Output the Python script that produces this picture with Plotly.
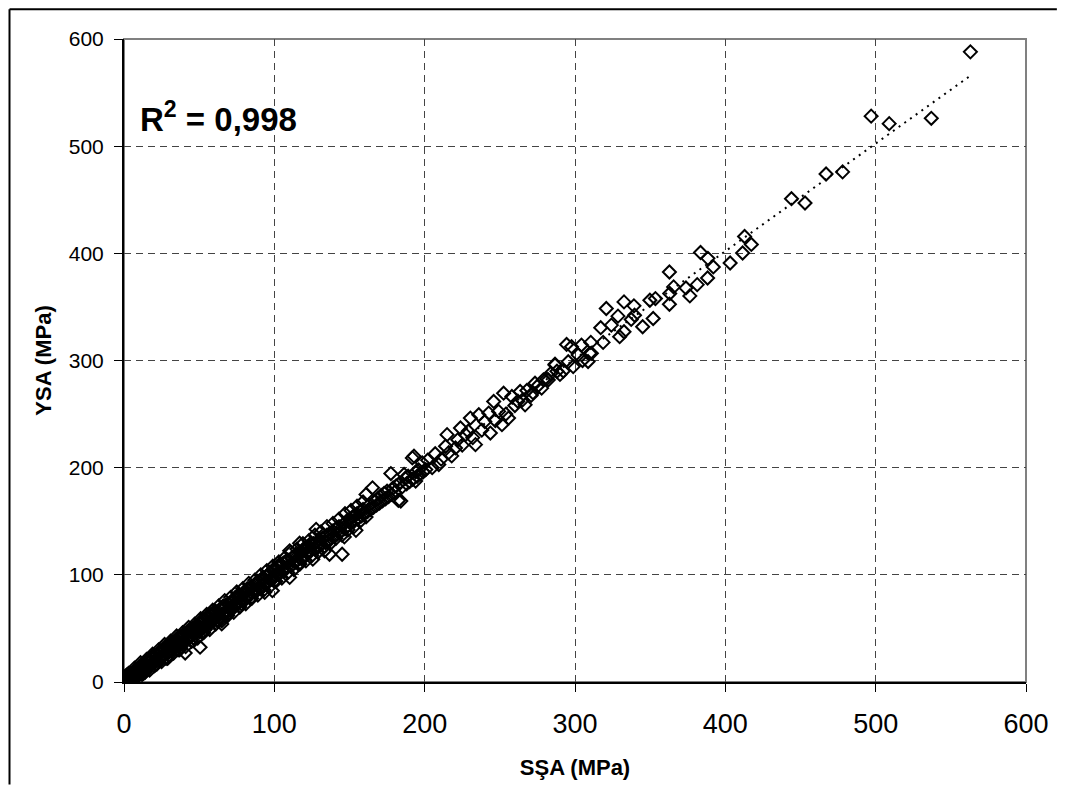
import numpy as np
import plotly.graph_objects as go

# ---- data ----
ssa_low = [
    0.5, 1.0, 1.5, 2.0, 2.5, 3.0, 3.0, 3.5, 4.0, 4.0,
    4.5, 5.0, 5.0, 5.5, 6.0, 6.0, 6.5, 7.0, 7.0, 7.5,
    8.0, 8.0, 8.5, 9.0, 9.0, 10.0, 10.0, 10.5, 11.0, 11.0,
    12.0, 12.0, 12.5, 13.0, 13.0, 14.0, 14.0, 15.0, 15.0, 16.0,
    16.0, 17.0, 17.0, 18.0, 18.0, 19.0, 19.0, 20.0, 20.0, 21.0,
    22.0, 22.0, 23.0, 23.0, 24.0, 24.0, 25.0, 25.0, 26.0, 26.0,
    27.0, 27.0, 28.0, 28.0, 29.0, 29.0, 30.0, 30.0, 31.0, 31.0,
    32.0, 32.0, 33.0, 33.0, 34.0, 35.0, 35.0, 36.0, 36.0, 37.0,
    37.0, 38.0, 38.0, 39.0, 39.0, 40.0, 40.0, 40.7, 41.0, 42.0,
    42.0, 43.0, 43.0, 44.0, 44.0, 45.0, 45.0, 46.0, 46.0, 47.0,
    47.0, 48.0, 48.0, 49.0, 49.0, 50.0, 50.0, 50.6, 51.0, 51.0,
    52.0, 52.0, 53.0, 53.0, 54.0, 54.0, 55.0, 55.0, 56.0, 56.0,
    57.0, 57.0, 58.0, 58.0, 59.0, 59.0, 60.0, 2.0, 3.5, 5.0,
    6.5, 8.0, 9.5, 11.0, 1.5, 4.5, 7.5, 12.0, 14.5, 16.5,
]
ysa_low = [
    4.5, 5.5, 3.0, 6.5, 4.0, 2.5, 7.0, 5.0, 3.5, 8.0,
    6.0, 2.0, 7.5, 4.5, 3.0, 9.0, 5.5, 4.0, 10.0, 6.5,
    5.0, 11.0, 8.0, 6.5, 12.0, 7.5, 13.5, 9.0, 8.0, 14.0,
    10.0, 15.5, 11.5, 9.5, 16.0, 12.0, 18.0, 13.0, 19.5, 14.5,
    20.5, 15.0, 21.0, 16.5, 22.5, 17.0, 23.0, 18.0, 24.5, 19.5,
    20.0, 26.0, 21.5, 27.0, 22.0, 28.5, 23.5, 29.0, 24.0, 30.5,
    25.0, 31.0, 26.5, 32.5, 27.0, 33.0, 28.0, 34.5, 29.5, 35.0,
    30.0, 36.5, 31.0, 37.0, 33.0, 33.5, 39.0, 34.0, 40.5, 35.5,
    41.0, 36.0, 42.5, 37.5, 43.0, 38.0, 45.0, 27.0, 39.5, 40.0,
    46.5, 41.5, 47.0, 42.0, 48.5, 43.0, 49.0, 44.5, 50.5, 45.0,
    51.0, 46.0, 52.5, 47.5, 53.0, 48.0, 55.0, 32.5, 49.5, 56.0,
    50.0, 57.5, 51.5, 58.0, 52.0, 59.0, 53.0, 60.5, 54.5, 61.0,
    55.0, 62.5, 56.0, 63.0, 57.5, 64.0, 58.5, 4.0, 6.0, 3.5,
    9.0, 7.0, 11.5, 10.0, 2.5, 6.0, 8.5, 14.0, 13.0, 18.0,
]

ssa_extra = [
    3, 5, 7, 9, 11, 13, 15, 17, 19, 21,
    23, 25, 27, 29, 31, 33, 35, 37, 39, 41,
    43, 45, 47, 49, 51, 53, 55, 57, 59, 61,
    63, 65, 67, 69, 71, 73, 75, 77, 79, 81,
    83, 85, 87, 89, 91, 93, 95, 97, 99, 101,
    103, 105, 107, 109, 111, 113, 115, 117, 119, 121,
    123, 125, 127, 129, 131, 133, 135, 137, 139, 141,
    143, 145, 147, 149, 151, 153, 155, 157, 159, 161,
    4, 8, 12, 16, 20, 24, 28, 32, 36, 44,
    52, 60, 68, 76, 84, 92, 100, 108, 116, 124,
    6, 10, 14, 18, 22, 26, 30, 34, 38, 42,
    46, 50, 54, 58, 62, 66, 70, 74, 78, 82,
]
ysa_extra = [
    8, 2, 13, 5, 18, 8, 21, 11, 26, 16,
    30, 19, 35, 22, 38, 27, 43, 30, 46, 33,
    51, 38, 54, 41, 59, 46, 63, 49, 67, 54,
    71, 57, 76, 62, 79, 65, 84, 70, 87, 73,
    92, 78, 95, 81, 100, 86, 104, 89, 108, 94,
    112, 97, 116, 102, 121, 105, 124, 110, 129, 113,
    132, 118, 137, 121, 140, 126, 145, 129, 148, 134,
    152, 137, 157, 142, 160, 145, 164, 150, 168, 154,
    1, 12, 7, 21, 15, 29, 22, 37, 30, 48,
    46, 65, 62, 81, 78, 97, 94, 113, 110, 129,
    3, 14, 9, 23, 17, 31, 25, 39, 33, 47,
    41, 55, 49, 63, 57, 71, 65, 79, 73, 87,
]

ssa_mid = [
    61, 62, 62, 63, 64, 64, 65, 65, 66, 67,
    67, 68, 69, 69, 70, 71, 71, 72, 73, 73,
    74, 75, 75, 76, 77, 77, 78, 79, 79, 80,
    81, 81, 82, 83, 83, 84, 85, 85, 86, 87,
    87, 88, 89, 89, 90, 91, 91, 92, 93, 93,
    94, 95, 95, 96, 97, 97, 98, 98.7, 99, 100,
    100, 101, 102, 102, 103, 104, 104, 105, 106, 106,
    107, 108, 108, 109, 110.2, 110.2, 111, 112, 112, 113,
    114, 114, 115, 116.8, 117, 118, 119, 119, 120, 121,
    122, 122, 123, 124, 125.6, 126, 127, 127.8, 128, 129,
    130, 131, 132, 133.4, 134, 135, 136, 136.7, 137, 138,
    139, 140, 141, 142, 143, 144, 145.1, 146, 146.6, 147,
    148, 149, 150, 151, 152, 153, 154.3, 155, 156, 157,
    158, 159, 160, 161, 162, 163, 164, 165.3, 166, 167,
    168, 169, 170, 171, 172, 173, 174, 175, 176, 177.5,
    178, 179, 180, 181, 182.5, 183, 184.1, 185, 186.3, 187,
    188, 189, 190, 191.8, 192, 192.9, 194, 194, 195, 196,
    197, 198.4, 199, 200.7, 65.0, 93.6, 98.7, 70, 80, 90,
]
ysa_mid = [
    66, 58, 64, 62, 68, 60, 54.2, 67, 63, 70,
    65, 71, 66, 73, 68, 74, 70, 69, 76, 71,
    73, 78, 72, 80, 75, 81, 77, 82, 76, 84,
    79, 85, 81, 86, 80, 88, 83, 89, 85, 91,
    84, 92, 86, 94, 88, 95, 87, 96, 90, 97,
    92, 99, 93, 100, 95, 102, 96, 85.2, 104, 98,
    106, 99, 108, 101, 107, 102, 110, 104, 111, 103,
    105, 113, 107, 114, 122.4, 97.6, 108, 116, 110, 117,
    112, 119, 113, 129.5, 121, 115, 123, 116, 125, 118,
    126, 120, 127, 122, 114.6, 129, 124, 142.5, 130, 126,
    133, 128, 134, 122.4, 130, 137, 132, 119.2, 139, 134,
    141, 136, 143, 138, 145, 140, 119.2, 147, 135.4, 143,
    150, 146, 152, 148, 154, 150, 141.5, 157, 153, 159,
    155, 161, 157, 175, 159, 165, 161, 181.2, 163, 169,
    165, 171, 167, 174, 169, 176, 171, 178, 173, 194.5,
    175, 181, 177, 183, 169.4, 185, 168.9, 182, 193.6, 190,
    185, 192, 187, 209.1, 189, 210.7, 187.5, 196, 192, 198,
    194, 204.5, 196, 198.2, 59, 83.6, 96, 72, 82, 88,
]

ssa_high = [
    202, 205, 207, 209.4, 211, 213.9, 214.9, 216, 218, 220.5,
    222, 223.8, 225, 227.2, 229, 230.4, 232, 233.8, 236, 238,
    240, 242.6, 243.7, 245.9, 247, 249.2, 251.4, 252.5, 254, 255.8,
    258, 260, 262, 263.5, 265, 266.8, 268, 270.8, 272, 273.4,
    275, 277.8, 279, 281.1, 282.3, 284, 286.7, 288, 290, 292.2,
    294.4, 295.5, 297.7, 298.8, 302.1, 304.3, 305, 308.7, 309.9, 310.5,
    310.9, 317.1, 318.7, 320.8, 324.2, 328.6, 329.7, 332.6, 332.6, 337.4,
    339.2, 339.6, 345, 349.8, 352, 353.5, 362.8, 362.8, 363, 365.6,
    373.8, 376.4, 381.3, 383.5, 388.2, 388.4, 392, 403.2, 411.5, 412.8,
    417.3, 444, 453, 467, 478, 497, 509, 537, 563, 286.7,
]
ysa_high = [
    207, 200, 213, 202.9, 208, 220, 230.8, 214, 211, 218.4,
    226, 237, 221, 230.8, 234, 246.3, 228, 221.5, 249.4, 235,
    243, 250.9, 232.3, 261.8, 244, 252.5, 240.1, 269.5, 250, 246.3,
    266.4, 258, 262, 271.1, 263, 258.6, 272, 267.4, 270, 278.8,
    276, 274.2, 282, 282.8, 281.9, 288, 296.5, 290, 287, 290.2,
    315, 298.9, 312.9, 294.3, 305.1, 314.4, 300, 299, 306.7, 316.9,
    306.7, 330.6, 316.9, 348.5, 333, 341.4, 322.2, 354.7, 326.8, 338.3,
    351, 342.3, 331.5, 356.2, 339.2, 357.8, 382.6, 352.5, 362.5, 368.7,
    367.7, 360.3, 370.8, 400.8, 377, 395.3, 387.3, 391, 400.3, 415.7,
    408.3, 451, 447, 474, 476, 528, 521, 526, 588, 295.8,
]

x_ticks = [0, 100, 200, 300, 400, 500, 600]
y_ticks = [0, 100, 200, 300, 400, 500, 600]
r2_label = "R<sup>2</sup> = 0,998"
x_title = "SŞA (MPa)"
y_title = "YSA (MPa)"

ssa = np.array(ssa_low + ssa_extra + ssa_mid + ssa_high, dtype=float)
ysa = np.array(ysa_low + ysa_extra + ysa_mid + ysa_high, dtype=float)

# linear trend line fitted to the points
slope, intercept = np.polyfit(ssa, ysa, 1)
trend_x = np.array([ssa.min(), ssa.max()])
trend_y = slope * trend_x + intercept

fig = go.Figure()
fig.add_trace(go.Scatter(
    x=trend_x, y=trend_y, mode="lines",
    line=dict(color="black", width=2, dash="2px,5px"),
    showlegend=False, hoverinfo="skip",
))
fig.add_trace(go.Scatter(
    x=ssa, y=ysa, mode="markers",
    marker=dict(symbol="diamond-open", size=10, color="black",
                line=dict(color="black", width=2)),
    showlegend=False,
))

font_family = "Liberation Sans, Arial, sans-serif"

# the page adds an 8px body margin; keep the figure inside the window
W, H = 1053, 780
ML, MR, MT, MB = 116, 31, 31, 103
PW, PH = W - ML - MR, H - MT - MB

fig.update_layout(
    width=W, height=H,
    margin=dict(l=ML, r=MR, t=MT, b=MB),
    paper_bgcolor="white", plot_bgcolor="white",
    font=dict(family=font_family, color="black"),
    showlegend=False,
)
fig.update_xaxes(
    range=[0, 600], tickvals=x_ticks, ticktext=[str(v) for v in x_ticks],
    tickfont=dict(size=27, family=font_family, color="black"),
    ticks="outside", ticklen=8, tickcolor="black", tickwidth=1,
    ticklabelstandoff=9,
    showline=True, linecolor="black", linewidth=2, mirror=False,
    showgrid=True, gridcolor="#444444", gridwidth=1, griddash="7px,5px",
    zeroline=False,
    title=dict(text="<b>" + x_title + "</b>", font=dict(size=22, family=font_family), standoff=21),
)
fig.update_yaxes(
    range=[0, 600], tickvals=y_ticks, ticktext=[str(v) for v in y_ticks],
    tickfont=dict(size=21, family=font_family, color="black"),
    ticks="outside", ticklen=8, tickcolor="black", tickwidth=1,
    ticklabelstandoff=6,
    showline=True, linecolor="black", linewidth=2, mirror=False,
    showgrid=True, gridcolor="#444444", gridwidth=1, griddash="7px,5px",
    zeroline=False,
    title=dict(text="<b>" + y_title + "</b>", font=dict(size=22, family=font_family), standoff=11),
)

# plot-area border (gray, top/right)
fig.add_shape(type="rect", xref="paper", yref="paper", x0=0, y0=0, x1=1, y1=1,
              line=dict(color="#808080", width=2), layer="below")
# outer chart frame: only its left and top edges fall inside the picture;
# the lines stop exactly at the figure edges
fx0 = (1 - ML) / PW
fy1 = (H - MB - 1) / PH
fx_end = (W - ML) / PW
fy_end = -MB / PH
fig.add_shape(type="line", xref="paper", yref="paper",
              x0=fx0, y0=fy1, x1=fx0, y1=fy_end,
              line=dict(color="black", width=2))
fig.add_shape(type="line", xref="paper", yref="paper",
              x0=fx0, y0=fy1, x1=fx_end, y1=fy1,
              line=dict(color="black", width=2))

fig.add_annotation(
    text="<b>" + r2_label + "</b>", xref="paper", yref="paper",
    x=0.0155, y=0.878, xanchor="left", yanchor="middle", showarrow=False,
    font=dict(size=33, family=font_family, color="black"),
)

fig.write_html("out.html")
